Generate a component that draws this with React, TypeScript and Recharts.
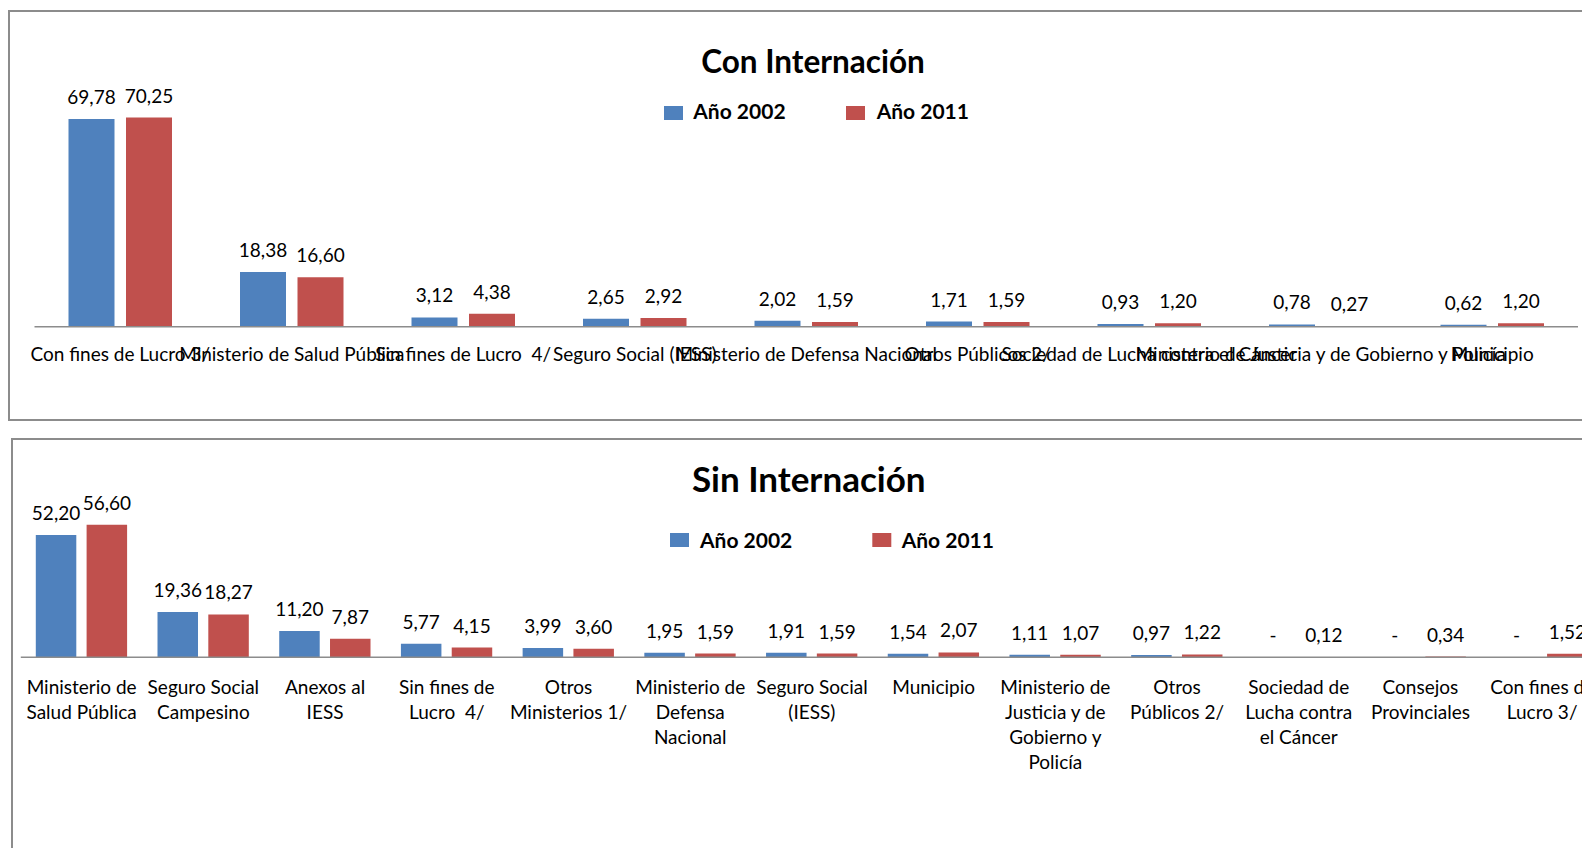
import React from 'react';
import { BarChart, Bar, XAxis, YAxis, LabelList, Legend } from 'recharts';

// Con Internación
const conCategorias = [
  'Con fines de Lucro 3/',
  'Ministerio de Salud Pública',
  'Sin fines de Lucro  4/',
  'Seguro Social (IESS)',
  'Ministerio de Defensa Nacional',
  'Otros Públicos 2/',
  'Sociedad de Lucha contra el Cáncer',
  'Ministerio de Justicia y de Gobierno y Policía',
  'Municipio',
];
const con2002 = [69.78, 18.38, 3.12, 2.65, 2.02, 1.71, 0.93, 0.78, 0.62];
const con2011 = [70.25, 16.6, 4.38, 2.92, 1.59, 1.59, 1.2, 0.27, 1.2];

// Sin Internación (line breaks as in the original axis)
const sinCategorias = [
  'Ministerio de\nSalud Pública',
  'Seguro Social\nCampesino',
  'Anexos al\nIESS',
  'Sin fines de\nLucro  4/',
  'Otros\nMinisterios 1/',
  'Ministerio de\nDefensa\nNacional',
  'Seguro Social\n(IESS)',
  'Municipio',
  'Ministerio de\nJusticia y de\nGobierno y\nPolicía',
  'Otros\nPúblicos 2/',
  'Sociedad de\nLucha contra\nel Cáncer',
  'Consejos\nProvinciales',
  'Con fines de\nLucro 3/',
];
const sin2002 = [52.2, 19.36, 11.2, 5.77, 3.99, 1.95, 1.91, 1.54, 1.11, 0.97, 0, 0, 0];
const sin2011 = [56.6, 18.27, 7.87, 4.15, 3.6, 1.59, 1.59, 2.07, 1.07, 1.22, 0.12, 0.34, 1.52];

const serieNombres = ['Año 2002', 'Año 2011'];

const AZUL = '#4F81BD';
const ROJO = '#C0504D';
const GRIS = '#8c8c8c';

const conData = conCategorias.map((c, i) => ({ categoria: c, a2002: con2002[i], a2011: con2011[i] }));
const sinData = sinCategorias.map((c, i) => ({ categoria: c, a2002: sin2002[i], a2011: sin2011[i] }));

const formato = (v: any) => (Number(v) === 0 ? '-' : Number(v).toFixed(2).replace('.', ','));

// zero values keep a hairline rect so their "-" label still gets drawn
const minimo = (v: any) => (Number(v) === 0 ? 0.01 : 0);

const TickCategoria = (props: any) => {
  const { x, y, payload, primera, interlinea } = props;
  const lineas = String(payload.value).split('\n');
  return (
    <text x={x} y={y} textAnchor="middle" fontSize={19} fill="#000" style={{ whiteSpace: 'pre' }}>
      {lineas.map((l, i) => (
        <tspan key={i} x={x} dy={i === 0 ? primera : interlinea}>
          {l}
        </tspan>
      ))}
    </text>
  );
};

const Leyenda = (props: any) => {
  const { payload, cuadros, textos, yCuadro, yTexto } = props;
  return (
    <svg width={1600} height={140} style={{ position: 'absolute', left: 0, top: 0, overflow: 'visible' }}>
      {(payload || []).map((p: any, i: number) => (
        <g key={p.value}>
          <rect x={cuadros[i]} y={yCuadro} width={19} height={14} fill={p.color} />
          <text x={textos[i]} y={yTexto} fontSize={21} fontWeight={700} fill="#000">
            {p.value}
          </text>
        </g>
      ))}
    </svg>
  );
};

const Titulo = ({ texto, x, y, size }: any) => (
  <svg width={1600} height={120} style={{ position: 'absolute', left: 0, top: 0, pointerEvents: 'none' }}>
    <text x={x} y={y} textAnchor="middle" fontSize={size} fontWeight={700} fill="#000">
      {texto}
    </text>
  </svg>
);

export default function App() {
  return (
    <div
      style={{
        position: 'absolute',
        left: 0,
        top: 0,
        width: 1582,
        height: 848,
        overflow: 'hidden',
        background: '#fff',
        fontFamily: 'Lato, sans-serif',
      }}
    >
      {/* Con Internación */}
      <div
        style={{
          position: 'absolute',
          left: 8,
          top: 10,
          width: 1700,
          height: 411,
          border: `2px solid ${GRIS}`,
          boxSizing: 'border-box',
        }}
      />
      <div style={{ position: 'absolute', left: 0, top: 0 }}>
        <BarChart
          width={1640}
          height={421}
          data={conData}
          margin={{ top: 88.6, right: 62, left: 34.5, bottom: 34.3 }}
          barSize={46}
          barGap={11.5}
        >
          <XAxis
            dataKey="categoria"
            height={60}
            interval={0}
            tickLine={false}
            tickSize={0}
            tickMargin={0}
            axisLine={{ stroke: GRIS, strokeWidth: 1.5 }}
            tick={<TickCategoria primera={34.5} interlinea={25} />}
          />
          <YAxis hide domain={[0, 80]} />
          <Legend
            wrapperStyle={{ top: 0, left: 0, width: 0, height: 0 }}
            content={(p: any) => (
              <Leyenda {...p} cuadros={[664, 846]} textos={[693.3, 876.7]} yCuadro={106} yTexto={119} />
            )}
          />
          <Bar dataKey="a2002" name={serieNombres[0]} fill={AZUL} isAnimationActive={false}>
            <LabelList dataKey="a2002" position="top" offset={15} formatter={formato} fill="#000" fontSize={19} />
          </Bar>
          <Bar dataKey="a2011" name={serieNombres[1]} fill={ROJO} isAnimationActive={false}>
            <LabelList dataKey="a2011" position="top" offset={15} formatter={formato} fill="#000" fontSize={19} />
          </Bar>
        </BarChart>
        <Titulo texto="Con Internación" x={813} y={73} size={31.5} />
      </div>

      {/* Sin Internación */}
      <div
        style={{
          position: 'absolute',
          left: 11,
          top: 438,
          width: 1700,
          height: 500,
          border: `2px solid ${GRIS}`,
          boxSizing: 'border-box',
        }}
      />
      <div style={{ position: 'absolute', left: 0, top: 430 }}>
        <BarChart
          width={1640}
          height={418}
          data={sinData}
          margin={{ top: 86.7, right: 37, left: 20.8, bottom: 40.7 }}
          barSize={40.5}
          barGap={10.3}
        >
          <XAxis
            dataKey="categoria"
            height={150}
            interval={0}
            tickLine={false}
            tickSize={0}
            tickMargin={0}
            axisLine={{ stroke: GRIS, strokeWidth: 1.5 }}
            tick={<TickCategoria primera={36.5} interlinea={25} />}
          />
          <YAxis hide domain={[0, 60]} />
          <Legend
            wrapperStyle={{ top: 0, left: 0, width: 0, height: 0 }}
            content={(p: any) => (
              <Leyenda {...p} cuadros={[670, 872.3]} textos={[700, 901.7]} yCuadro={103} yTexto={118} />
            )}
          />
          <Bar dataKey="a2002" name={serieNombres[0]} fill={AZUL} minPointSize={minimo} isAnimationActive={false}>
            <LabelList dataKey="a2002" position="top" offset={15} formatter={formato} fill="#000" fontSize={19} />
          </Bar>
          <Bar dataKey="a2011" name={serieNombres[1]} fill={ROJO} isAnimationActive={false}>
            <LabelList dataKey="a2011" position="top" offset={15} formatter={formato} fill="#000" fontSize={19} />
          </Bar>
        </BarChart>
        <Titulo texto="Sin Internación" x={808.7} y={61.7} size={35} />
      </div>
    </div>
  );
}
